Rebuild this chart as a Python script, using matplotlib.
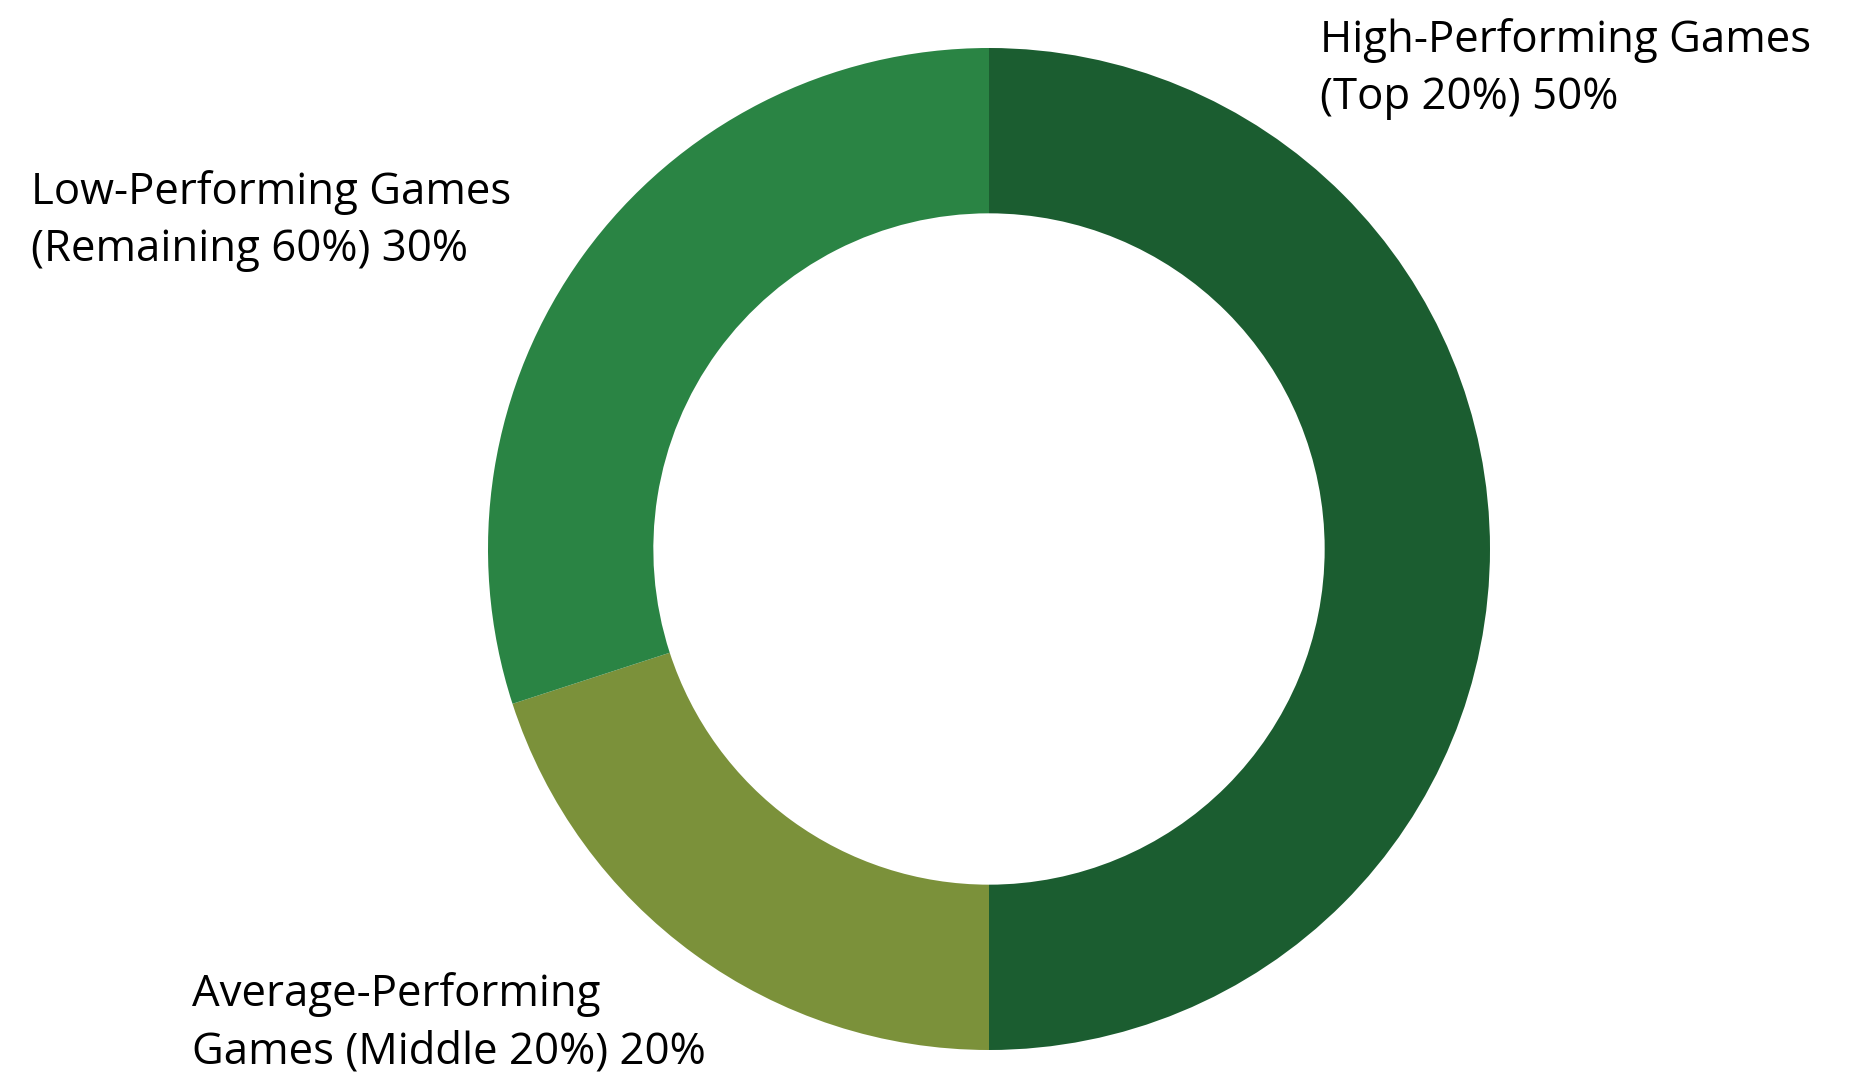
import matplotlib
matplotlib.use('Agg')
import matplotlib.pyplot as plt

plt.rcParams['font.family'] = ['Open Sans', 'DejaVu Sans']

LABELS = ['High-Performing Games\n(Top 20%) 50%',
          'Average-Performing\nGames (Middle 20%) 20%',
          'Low-Performing Games\n(Remaining 60%) 30%']
SHARES = [50, 20, 30]
COLORS = ['#1b5d30', '#7b913a', '#2a8444']

W, H = 1871, 1076
fig = plt.figure(figsize=(W / 100, H / 100), dpi=100)

# donut: centre at (989, 549) px from the top-left, outer radius 501 px
cx, cy, r = 989, 549, 501
ax = fig.add_axes([(cx - r) / W, (H - cy - r) / H, 2 * r / W, 2 * r / H])
ax.pie(SHARES, colors=COLORS, startangle=90, counterclock=False, radius=1,
       wedgeprops=dict(width=0.33, linewidth=0))
ax.set_xlim(-1, 1)
ax.set_ylim(-1, 1)
ax.set_aspect('equal')
ax.axis('off')

# label anchors (left edge, top edge) in pixels
label_pos = [(1320, 18), (192, 972), (31, 170)]
for text, (x, y) in zip(LABELS, label_pos):
    fig.text(x / W, 1 - y / H, text, ha='left', va='top', fontsize=31.5,
             linespacing=1.38, color='black')

fig.savefig('out.png', dpi=100)
